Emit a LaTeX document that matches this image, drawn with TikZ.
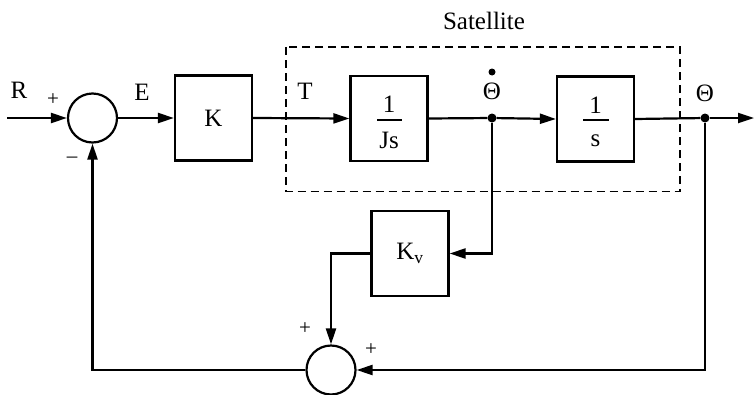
\documentclass[tikz,border=0pt]{standalone}
\usepackage{fontspec}
\setmainfont{Liberation Serif}
\usetikzlibrary{arrows.meta}
\begin{document}
\begin{tikzpicture}[x=1pt,y=-1pt,
  blk/.style={draw, line width=2.2pt, minimum width=77pt, minimum height=85pt, inner sep=0pt, font=\fontsize{25}{27}\selectfont},
  sumj/.style={draw, circle, line width=2.2pt, minimum size=49pt, inner sep=0pt},
  sig/.style={line width=2.2pt},
  arr/.style={sig, -{Triangle[length=16pt,width=10pt]}},
  lbl/.style={font=\fontsize{25}{27}\selectfont, inner sep=0pt},
  sgn/.style={font=\fontsize{21}{23}\selectfont, inner sep=0pt},
  jdot/.style={circle, fill, inner sep=0pt, minimum size=9pt},
  frame/.style={line width=1.4pt, dash pattern=on 8pt off 5pt}]
\useasboundingbox (0,0) rectangle (754,394);
% blocks
\node[sumj] (s1) at (92.5,118) {};
\node[blk] (K) at (213.5,118) {K};
\node[blk] (G1) at (389,118.5) {};
\node[blk] (G2) at (595.5,119) {};
\node[blk] (Kv) at (410,253.5) {K\textsubscript{v}};
\node[sumj] (s2) at (331,370) {};
% fractions
\node[lbl] (G1n) at (389,104) {1};
\node[lbl] (G1d) at (389,140) {Js};
\draw[line width=1.1pt] (377,120) -- (402,120);
\node[lbl] (G2n) at (595.5,105) {1};
\node[lbl] (G2d) at (595.5,141) {s};
\draw[line width=1.1pt] (583,120) -- (609,120);
% dashed frame
\draw[frame] (286,47) rectangle (680,191.5);
\node[lbl] (sat) at (484,21) {Satellite};
% junction dots and ends
\node[jdot] (d1) at (492,118) {};
\node[jdot] (d2) at (705,118) {};
\coordinate (in) at (7,118);
\coordinate (out) at (754,118);
% connectors
\draw[arr] (in) -- (s1.west);
\draw[arr] (s1.east) -- (K.west);
\draw[arr] (K.east) -- (G1.west);
\draw[sig] (G1.east) -- (d1);
\draw[arr] (d1) -- (G2.west);
\draw[sig] (G2.east) -- (d2);
\draw[arr] (d2) -- (out);
\draw[arr] (d1) |- (Kv.east);
\draw[arr] (Kv.west) -| (s2.north);
\draw[arr] (d2) |- (s2.east);
\draw[arr] (s2.west) -| (s1.south);
% labels
\node[lbl] (R) at (19,90) {R};
\node[lbl] (E) at (142,92) {E};
\node[lbl] (T) at (305,91) {T};
\node[lbl] (th1) at (492,91) {Θ};
\node[circle, fill, inner sep=0pt, minimum size=7pt] (th1dot) at (492,72) {};
\node[lbl] (th2) at (705,93) {Θ};
\node[sgn] (p1) at (53,100) {+};
\node[sgn] (m1) at (72,160) {–};
\node[sgn] (p2) at (305,329) {+};
\node[sgn] (p3) at (371,350) {+};
\end{tikzpicture}
\end{document}
